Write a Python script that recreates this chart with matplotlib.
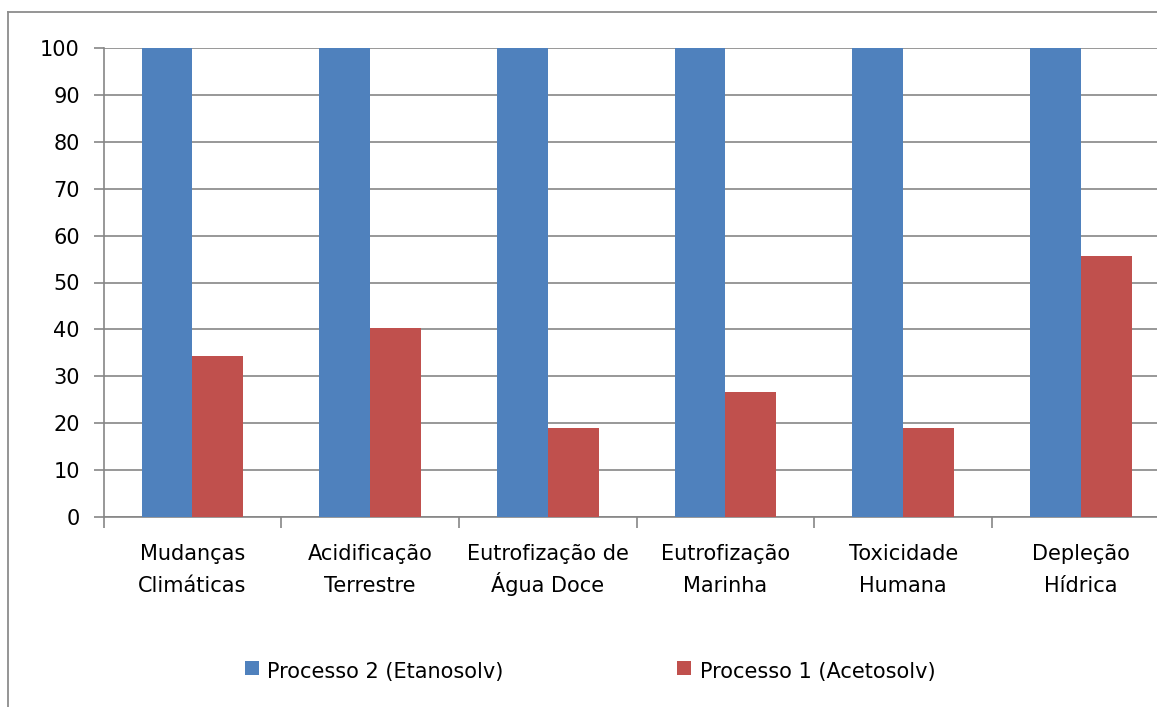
import matplotlib
matplotlib.use("Agg")
import matplotlib.pyplot as plt
from matplotlib.patches import Rectangle
from matplotlib.lines import Line2D
from matplotlib import transforms
import numpy as np

plt.rcParams['font.family'] = ['DejaVu Sans']

categories = [("Mudanças", "Climáticas"), ("Acidificação", "Terrestre"),
              ("Eutrofização de", "Água Doce"), ("Eutrofização", "Marinha"),
              ("Toxicidade", "Humana"), ("Depleção", "Hídrica")]
processo2 = [100, 100, 100, 100, 100, 100]
processo1 = [34.3, 40.3, 19.0, 26.6, 19.0, 55.6]
series_names = ["Processo 2 (Etanosolv)", "Processo 1 (Acetosolv)"]
yticks = [0, 10, 20, 30, 40, 50, 60, 70, 80, 90, 100]

blue = "#4F81BD"
red = "#C0504D"
grid_c = "#868686"
fs = 15

W, H = 1157, 707
fig = plt.figure(figsize=(W / 100, H / 100), dpi=100)
fig.patch.set_facecolor("white")


def fx(px):
    return px / W


def fy(py):
    return 1 - py / H


# chart-area border (runs off the right and bottom edges)
fig.add_artist(Line2D([fx(7.5), fx(7.5)], [0, fy(12)], transform=fig.transFigure,
                      color="#8c8c8c", lw=1.3))
fig.add_artist(Line2D([fx(7.5), 1.0], [fy(12), fy(12)], transform=fig.transFigure,
                      color="#8c8c8c", lw=1.3))

left, right = fx(103.5), fx(1169.7)
bottom, top = fy(517), fy(48)
ax = fig.add_axes([left, bottom, right - left, top - bottom])

x = np.arange(len(categories))
bw = 0.286
ax.bar(x - bw / 2, processo2, bw, color=blue, zorder=3)
ax.bar(x + bw / 2, processo1, bw, color=red, zorder=3)

ax.set_xlim(-0.5, len(categories) - 0.5)
ax.set_ylim(0, 100)
ax.set_yticks(yticks)
ax.yaxis.grid(True, color=grid_c, lw=1.2, zorder=0)
ax.set_axisbelow(True)

for s in ["top", "right"]:
    ax.spines[s].set_visible(False)
for s in ["left", "bottom"]:
    ax.spines[s].set_color(grid_c)
    ax.spines[s].set_linewidth(1.2)

ax.tick_params(axis="y", length=7, width=1.2, color=grid_c, labelsize=fs, pad=10)
ax.set_xticks([])
ax.set_xticks(np.arange(len(categories) + 1) - 0.5, minor=True)
ax.tick_params(axis="x", which="minor", length=8, width=1.2, color=grid_c)

# two-line category labels, each line on its own baseline
trans = transforms.blended_transform_factory(ax.transData, fig.transFigure)
for xi, (l1, l2) in zip(x, categories):
    ax.text(xi, fy(560), l1, transform=trans, ha="center", va="baseline", fontsize=fs,
            clip_on=False)
    ax.text(xi, fy(592), l2, transform=trans, ha="center", va="baseline", fontsize=fs,
            clip_on=False)

# legend
colors = [blue, red]
sq_x = [245, 677]
txt_x = [267, 700]
for c, sx, tx, name in zip(colors, sq_x, txt_x, series_names):
    fig.add_artist(Rectangle((fx(sx), fy(675)), 14 / W, 14 / H, transform=fig.transFigure,
                             facecolor=c, edgecolor="none"))
    fig.text(fx(tx), fy(678), name, ha="left", va="baseline", fontsize=fs)

fig.savefig("out.png", dpi=100, facecolor="white")
